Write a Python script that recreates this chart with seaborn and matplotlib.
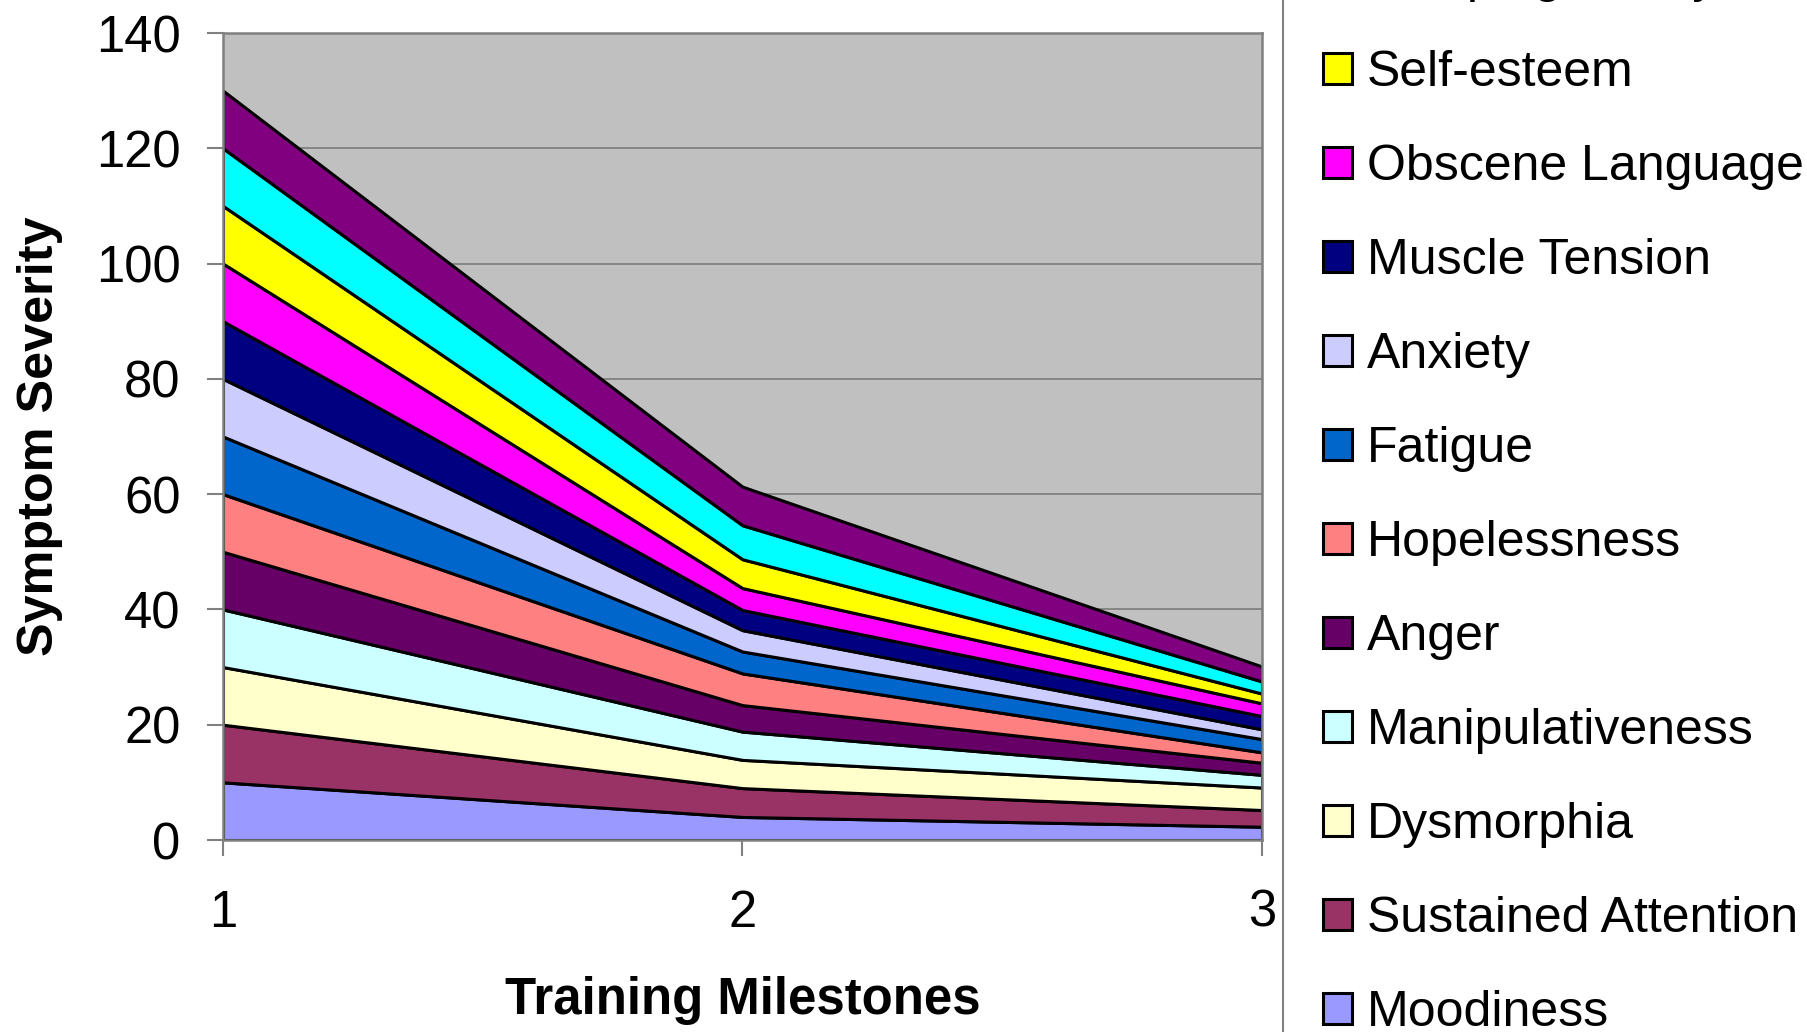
import matplotlib
matplotlib.use('Agg')
import matplotlib.pyplot as plt
import seaborn as sns
from matplotlib.patches import Patch

# ---- data ----
milestones = [1, 2, 3]
moodiness = [10, 4.0, 2.3]
sustained_attention = [10, 5.0, 2.9]
dysmorphia = [10, 4.9, 3.9]
manipulativeness = [10, 4.9, 2.2]
anger = [10, 4.6, 2.1]
hopelessness = [10, 5.5, 1.8]
fatigue = [10, 3.8, 2.3]
anxiety = [10, 3.7, 1.7]
muscle_tension = [10, 3.5, 2.3]
obscene_language = [10, 3.8, 2.2]
self_esteem = [10, 5.0, 1.7]
sleeping_poorly = [10, 5.9, 2.1]
irritability = [10, 6.7, 2.6]

labels = ["Moodiness", "Sustained Attention", "Dysmorphia", "Manipulativeness",
          "Anger", "Hopelessness", "Fatigue", "Anxiety", "Muscle Tension",
          "Obscene Language", "Self-esteem", "Sleeping Poorly", "Irritability"]
series = [moodiness, sustained_attention, dysmorphia, manipulativeness, anger,
          hopelessness, fatigue, anxiety, muscle_tension, obscene_language,
          self_esteem, sleeping_poorly, irritability]
colors = ["#9999FF", "#993366", "#FFFFCC", "#CCFFFF", "#660066", "#FF8080",
          "#0066CC", "#CCCCFF", "#000080", "#FF00FF", "#FFFF00", "#00FFFF",
          "#800080"]
y_ticks = [0, 20, 40, 60, 80, 100, 120, 140]
x_ticks = [1, 2, 3]

sns.set_theme(style="white")
plt.rcParams['font.family'] = ['Liberation Sans', 'DejaVu Sans']
plt.rcParams['text.color'] = 'black'
plt.rcParams['axes.labelcolor'] = 'black'
plt.rcParams['xtick.color'] = 'black'
plt.rcParams['ytick.color'] = 'black'

W, H = 1808, 1032
fig = plt.figure(figsize=(W / 100, H / 100), dpi=100)
fig.patch.set_facecolor('white')
ax = fig.add_axes([223 / W, 1 - 840 / H, (1262 - 223) / W, (840 - 33) / H])

ax.set_facecolor('#C0C0C0')
ax.stackplot(milestones, *series, colors=colors, edgecolor='black',
             linewidth=2.2, zorder=2)

ax.set_xlim(1, 3)
ax.set_ylim(0, 140)
ax.set_xticks(x_ticks)
ax.set_yticks(y_ticks)
ax.set_xticklabels([str(v) for v in x_ticks])
ax.set_yticklabels([str(v) for v in y_ticks])
ax.grid(axis='y', color='#808080', linewidth=1.3, zorder=1)
ax.grid(axis='x', visible=False)
ax.set_axisbelow(True)

for s in ax.spines.values():
    s.set_color('#808080')
    s.set_linewidth(1.8)
    s.set_visible(True)

ax.tick_params(axis='both', direction='out', length=11.5, width=1.5,
               color='#808080', labelcolor='black', labelsize=36.5,
               left=True, bottom=True)
ax.tick_params(axis='y', pad=19)
ax.tick_params(axis='x', pad=23.5)

ax.set_ylabel("Symptom Severity", fontsize=36.3, fontweight='bold',
              va='center', color='black')
ax.yaxis.set_label_coords((40 - 223) / (1262 - 223), 0.5)
ax.set_xlabel("Training Milestones", fontsize=36.6, fontweight='bold',
              va='center', color='black')
ax.xaxis.set_label_coords(0.5, (840 - 1000.5) / (840 - 33))

handles = [Patch(facecolor=c, edgecolor='black', linewidth=2.2) for c in colors][::-1]
leg = fig.legend(handles, labels[::-1], loc='center left',
                 bbox_to_anchor=(1283 / W, 1 - 449.5 / H),
                 bbox_transform=fig.transFigure, frameon=True, fontsize=36,
                 labelspacing=0.96, handlelength=0.58, handleheight=0.58,
                 handletextpad=0.3, borderpad=0.8, borderaxespad=0,
                 fancybox=False, edgecolor='#808080', framealpha=1,
                 labelcolor='black')
leg.get_frame().set_linewidth(1.5)

fig.savefig('out.png', dpi=100)
